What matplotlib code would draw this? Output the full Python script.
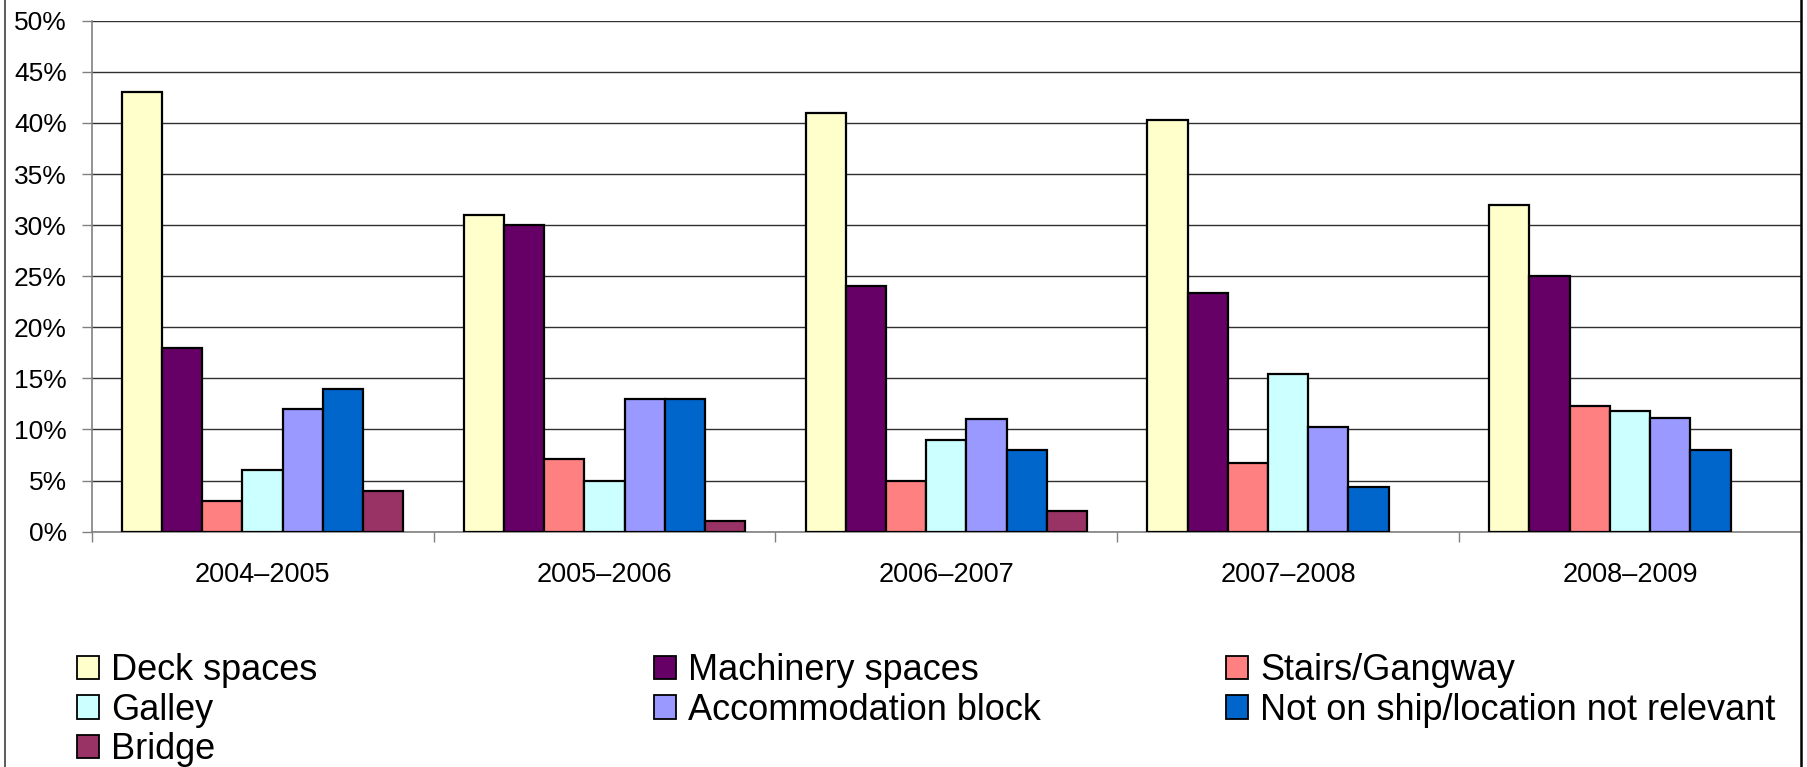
import matplotlib

matplotlib.use("Agg")

import matplotlib.pyplot as plt
import numpy as np
from matplotlib.lines import Line2D
from matplotlib.patches import Patch
from matplotlib.ticker import FuncFormatter, MultipleLocator

plt.rcParams["font.family"] = ["Liberation Sans", "DejaVu Sans"]

years = ["2004–2005", "2005–2006", "2006–2007", "2007–2008", "2008–2009"]
locations = [
    "Deck spaces",
    "Machinery spaces",
    "Stairs/Gangway",
    "Galley",
    "Accommodation block",
    "Not on ship/location not relevant",
    "Bridge",
]
colors = ["#FFFFCC", "#660066", "#FF8080", "#CCFFFF", "#9999FF", "#0066CC", "#993366"]

deck = [43.0, 31.0, 41.0, 40.3, 32.0]
machinery = [18.0, 30.0, 24.0, 23.4, 25.0]
stairs = [3.0, 7.1, 5.0, 6.7, 12.3]
galley = [6.0, 5.0, 9.0, 15.4, 11.8]
accommodation = [12.0, 13.0, 11.0, 10.2, 11.1]
not_on_ship = [14.0, 13.0, 8.0, 4.4, 8.0]
bridge = [4.0, 1.0, 2.0, 0.0, 0.0]

series = [deck, machinery, stairs, galley, accommodation, not_on_ship, bridge]

fig = plt.figure(figsize=(18.08, 7.67), dpi=100)
ax = fig.add_axes([0.0507, 0.3068, 0.9454, 0.6662])

x = np.arange(len(years))
width = 1 / 8.5
handles = []
for i, (values, name, color) in enumerate(zip(series, locations, colors)):
    vals = np.array(values)
    ax.bar(x + (i - 3) * width, np.where(vals > 0, vals, np.nan), width,
           color=color, edgecolor="black", linewidth=1.6, zorder=3)
    handles.append(Patch(facecolor=color, edgecolor="black", linewidth=1.3, label=name))

ax.set_xlim(-0.5, len(years) - 0.5)
ax.set_ylim(0, 50)
ax.yaxis.set_major_locator(MultipleLocator(5))
ax.yaxis.set_major_formatter(FuncFormatter(lambda v, p: f"{v:.0f}%"))
ax.grid(axis="y", color="#303030", linewidth=1.0, zorder=0)

ax.set_xticks(x)
ax.set_xticklabels(years)
ax.set_xticks(np.arange(len(years) + 1) - 0.5, minor=True)
ax.tick_params(axis="x", which="major", length=0, pad=22, labelsize=19.5)
ax.tick_params(axis="x", which="minor", length=7, width=1, color="#808080", direction="out")
ax.tick_params(axis="y", length=7, width=1, color="#808080", pad=11, labelsize=19)

for side in ["top", "right"]:
    ax.spines[side].set_visible(False)
for side in ["left", "bottom"]:
    ax.spines[side].set_color("#808080")
    ax.spines[side].set_linewidth(1.2)

# chart border lines (left and right)
fig.add_artist(Line2D([5 / 1808, 5 / 1808], [0, 1], color="#404040", linewidth=1.2,
                      transform=fig.transFigure))
fig.add_artist(Line2D([1801 / 1808, 1801 / 1808], [0, 1], color="black", linewidth=1.8,
                      transform=fig.transFigure))

# legend in three columns laid out like the original
columns = [[0, 3, 6], [1, 4], [2, 5]]
col_x = [77, 654, 1226]
for cols, cx in zip(columns, col_x):
    fig.legend([handles[k] for k in cols], [locations[k] for k in cols],
               loc="upper left", bbox_to_anchor=(cx / 1808, 1 - 653 / 767),
               frameon=False, fontsize=26, borderpad=0, borderaxespad=0,
               handlelength=0.62, handleheight=0.62, handletextpad=0.33,
               labelspacing=0.125)

fig.savefig("out.png", dpi=100)
